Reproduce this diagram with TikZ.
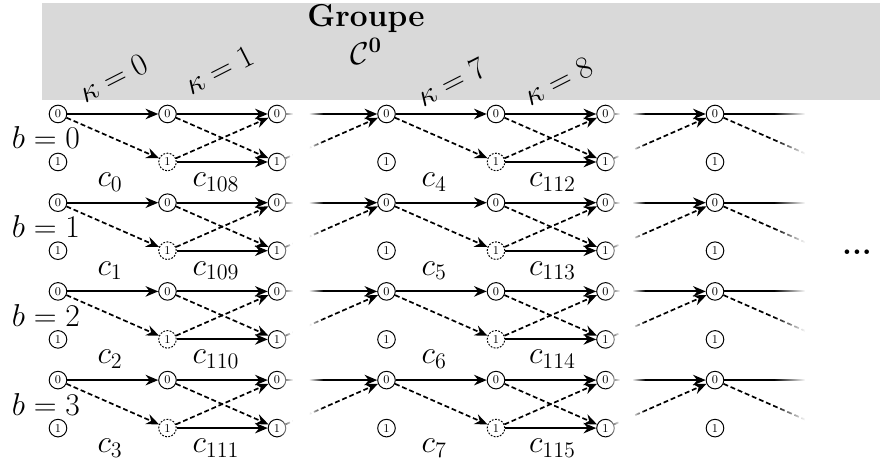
\documentclass[tikz,border=0pt]{standalone}
\usepackage{fix-cm}
\usepackage{amsmath,amssymb}
\usepackage{tikz}
\usetikzlibrary{arrows.meta,positioning,fadings}

\tikzfading[name=fadein, left color=transparent!100, right color=transparent!0]
\tikzfading[name=fadeout, left color=transparent!0, right color=transparent!100]

\tikzset{
  st/.style={draw, circle, line width=0.7pt, minimum size=0.44cm, inner sep=0pt, font=\fontsize{8.5}{10}\selectfont},
  stdash/.style={st, dash pattern=on 1.3pt off 1pt},
  solidedge/.style={-{Stealth[length=9pt,width=7.5pt]}, line width=1.3pt},
  dashedge/.style={solidedge, line width=1.2pt, dash pattern=on 3.5pt off 2pt},
  big/.style={font=\fontsize{22.5}{27}\selectfont},
}

\begin{document}
\begin{tikzpicture}[node distance=1.2cm and 2.7375cm, on grid]
  \useasboundingbox (0,0) rectangle (22,-11.5);
  % header band
  \fill[gray!30] (1.05,-0.075) rectangle (22,-2.5);

  \foreach \b in {0,...,3}{
    \pgfmathtruncatemacro{\ca}{108+\b}
    \pgfmathtruncatemacro{\cb}{4+\b}
    \pgfmathtruncatemacro{\cc}{112+\b}
    % first block
    \node[st] (zero\b-1) at (1.45,-2.85-2.2175*\b) {0};
    \node[st, below=of zero\b-1] (one\b-1) {1};
    \node[st, right=of zero\b-1] (zero\b-2) {0};
    \node[stdash, below=of zero\b-2] (one\b-2) {1};
    \node[st, right=of zero\b-2] (zero\b-3) {0};
    \node[st, below=of zero\b-3] (one\b-3) {1};
    % second block
    \node[st, right=of zero\b-3] (zero\b-4) {0};
    \node[st, below=of zero\b-4] (one\b-4) {1};
    \node[st, right=of zero\b-4] (zero\b-5) {0};
    \node[stdash, below=of zero\b-5] (one\b-5) {1};
    \node[st, right=of zero\b-5] (zero\b-6) {0};
    \node[st, below=of zero\b-6] (one\b-6) {1};
    % third block
    \node[st, right=of zero\b-6] (zero\b-7) {0};
    \node[st, below=of zero\b-7] (one\b-7) {1};
    \coordinate[right=of zero\b-7] (zero\b-8);
    \coordinate[below=of zero\b-8] (one\b-8);

    % transitions
    \draw[solidedge] (zero\b-1) -- (zero\b-2);
    \draw[dashedge] (zero\b-1) -- (one\b-2);
    \draw[solidedge] (zero\b-2) -- (zero\b-3);
    \draw[dashedge] (zero\b-2) -- (one\b-3);
    \draw[dashedge] (one\b-2) -- (zero\b-3);
    \draw[solidedge] (one\b-2) -- (one\b-3);
    \draw[solidedge] (zero\b-3) -- (zero\b-4);
    \draw[dashedge] (one\b-3) -- (zero\b-4);
    \draw[solidedge] (zero\b-4) -- (zero\b-5);
    \draw[dashedge] (zero\b-4) -- (one\b-5);
    \draw[solidedge] (zero\b-5) -- (zero\b-6);
    \draw[dashedge] (zero\b-5) -- (one\b-6);
    \draw[dashedge] (one\b-5) -- (zero\b-6);
    \draw[solidedge] (one\b-5) -- (one\b-6);
    \draw[solidedge] (zero\b-6) -- (zero\b-7);
    \draw[dashedge] (one\b-6) -- (zero\b-7);
    \draw[solidedge, -] (zero\b-7) -- (zero\b-8);
    \draw[dashedge, -] (zero\b-7) -- (one\b-8);

    % labels
    \node[big, below left=0.6cm and 0.3cm of zero\b-1] (blab\b) {$b=\b$};
    \node[big, below right=1.7cm and 1.3cm of zero\b-1] (clab\b-1) {$c_{\b}$};
    \node[big, below right=1.7cm and 1.21cm of zero\b-2] (clab\b-2) {$c_{\ca}$};
    \node[big, below right=1.7cm and 1.19cm of zero\b-4] (clab\b-4) {$c_{\cb}$};
    \node[big, below right=1.7cm and 1.41cm of zero\b-5] (clab\b-5) {$c_{\cc}$};
  }

  % elided parts
  \fill[white, path fading=fadein] (6.95,-2.52) rectangle (7.33,-11.5);
  \fill[white] (7.32,-2.52) rectangle (7.73,-11.5);
  \fill[white, path fading=fadeout] (7.72,-2.52) rectangle (8.08,-11.5);
  \fill[white, path fading=fadein] (15.17,-2.52) rectangle (15.5,-11.5);
  \fill[white] (15.49,-2.52) rectangle (15.81,-11.5);
  \fill[white, path fading=fadeout] (15.8,-2.52) rectangle (16.13,-11.5);
  \fill[white, path fading=fadein] (19.35,-2.52) rectangle (20.13,-11.5);
  \fill[white] (20.12,-2.52) rectangle (21,-11.5);

  % header texts
  \node[big, align=center] (groupe) at (9.15,-0.85) {\textbf{Groupe}\\$\mathcal{C}^{\mathbf{0}}$};
  \node[big, rotate=27] (k0) at (2.825,-1.95) {$\kappa=0$};
  \node[big, rotate=27] (k1) at (5.475,-1.75) {$\kappa=1$};
  \node[big, rotate=27] (k7) at (11.275,-2.05) {$\kappa=7$};
  \node[big, rotate=27] (k8) at (13.95,-2.025) {$\kappa=8$};
  \node[big] (dots) at (21.425,-6.3) {\textbf{...}};
\end{tikzpicture}
\end{document}
